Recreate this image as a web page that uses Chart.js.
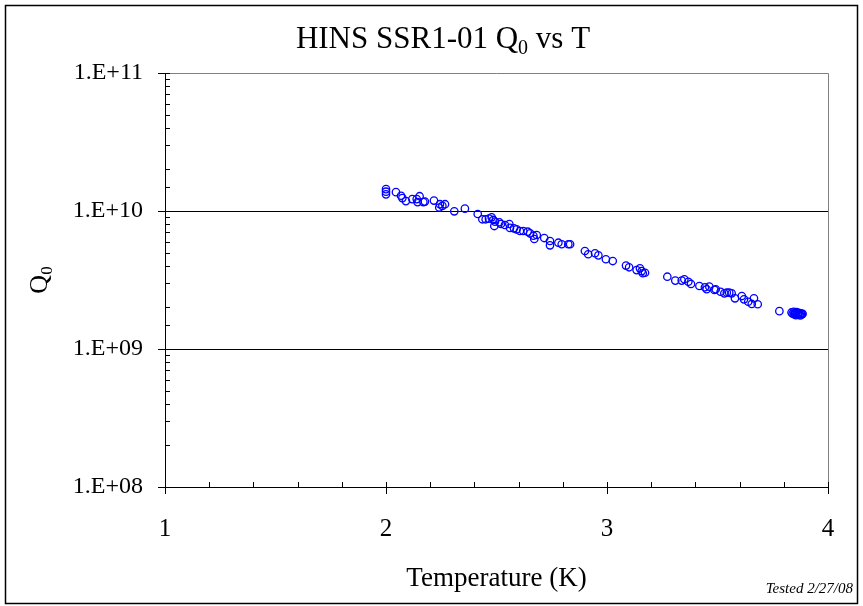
<!DOCTYPE html>
<html>
<head>
<meta charset="utf-8">
<script src="https://cdn.jsdelivr.net/npm/chart.js@4/dist/chart.umd.min.js"></script>
<style>
  html, body { margin: 0; padding: 0; background: #fff; }
  #wrap { width: 863px; height: 606px; }
</style>
</head>
<body>
<div id="wrap"><canvas id="q0chart" width="863" height="606"></canvas></div>
<script>
// Cavity test: Q0 against bath temperature
var tempK = [
  2.000, 2.000, 2.000, 2.045, 2.068, 2.074, 2.090, 2.119, 2.139, 2.152,
  2.143, 2.169, 2.176, 2.217, 2.244, 2.267, 2.241, 2.255, 2.309, 2.357,
  2.415, 2.436, 2.451, 2.466, 2.478, 2.486, 2.493, 2.490, 2.513, 2.520,
  2.538, 2.558, 2.561, 2.579, 2.591, 2.606, 2.621, 2.641, 2.652, 2.667,
  2.671, 2.682, 2.716, 2.742, 2.742, 2.780, 2.795, 2.825, 2.833, 2.900,
  2.915, 2.946, 2.961, 2.995, 3.026, 3.086, 3.100, 3.134, 3.149, 3.157,
  3.172, 3.162, 3.273, 3.309, 3.338, 3.350, 3.368, 3.380, 3.418, 3.443,
  3.451, 3.463, 3.486, 3.492, 3.514, 3.531, 3.542, 3.553, 3.564, 3.579,
  3.610, 3.620, 3.639, 3.655, 3.665, 3.682, 3.780,
  3.835, 3.840, 3.845, 3.848, 3.850, 3.852, 3.855, 3.858, 3.862, 3.865,
  3.868, 3.872, 3.875, 3.878, 3.882, 3.885
];
var q0 = [
  1.44e10, 1.38e10, 1.32e10, 1.37e10, 1.29e10, 1.24e10, 1.18e10, 1.22e10, 1.22e10, 1.28e10,
  1.16e10, 1.16e10, 1.17e10, 1.19e10, 1.12e10, 1.12e10, 1.06e10, 1.09e10, 9.95e9, 1.04e10,
  9.51e9, 8.71e9, 8.71e9, 8.80e9, 9.00e9, 8.61e9, 8.37e9, 7.78e9, 8.28e9, 8.05e9,
  7.92e9, 8.05e9, 7.54e9, 7.49e9, 7.36e9, 7.16e9, 7.16e9, 7.08e9, 6.89e9, 6.62e9,
  6.27e9, 6.70e9, 6.37e9, 6.06e9, 5.64e9, 5.89e9, 5.74e9, 5.74e9, 5.74e9, 5.13e9,
  4.86e9, 4.94e9, 4.77e9, 4.47e9, 4.34e9, 4.02e9, 3.91e9, 3.73e9, 3.84e9, 3.67e9,
  3.57e9, 3.54e9, 3.34e9, 3.13e9, 3.13e9, 3.20e9, 3.07e9, 2.96e9, 2.86e9, 2.80e9,
  2.71e9, 2.83e9, 2.68e9, 2.71e9, 2.60e9, 2.53e9, 2.56e9, 2.56e9, 2.53e9, 2.33e9,
  2.42e9, 2.29e9, 2.20e9, 2.12e9, 2.33e9, 2.11e9, 1.88e9,
  1.84e9, 1.80e9, 1.86e9, 1.78e9, 1.79e9, 1.82e9, 1.76e9, 1.85e9, 1.80e9, 1.77e9,
  1.83e9, 1.79e9, 1.75e9, 1.81e9, 1.78e9, 1.80e9
];
var xTickLabels = ['1', '2', '3', '4'];
var yTickLabels = ['1.E+08', '1.E+09', '1.E+10', '1.E+11'];

var SERIF = '"Liberation Serif", "Times New Roman", serif';

var points = tempK.map(function(t, i) { return { x: t, y: q0[i] }; });

function isDecade(v) {
  var l = Math.log10(v);
  return Math.abs(l - Math.round(l)) < 1e-9;
}
function isWhole(v) {
  return Math.abs(v - Math.round(v)) < 1e-6;
}

// text with a subscript part: [[text, isSub], ...]
function subText(ctx, parts, size) {
  var w = 0;
  parts.forEach(function(p) {
    ctx.font = (p[1] ? Math.round(size * 0.65) : size) + 'px ' + SERIF;
    p.w = ctx.measureText(p[0]).width;
    w += p.w;
  });
  return w;
}
function drawSub(ctx, parts, size, cx, baseY) {
  var w = subText(ctx, parts, size);
  var x = cx - w / 2;
  ctx.textAlign = 'left';
  ctx.textBaseline = 'alphabetic';
  parts.forEach(function(p) {
    ctx.font = (p[1] ? Math.round(size * 0.65) : size) + 'px ' + SERIF;
    ctx.fillText(p[0], x, baseY + (p[1] ? size * 0.18 : 0));
    x += p.w;
  });
}

var decor = {
  id: 'decor',
  afterDraw: function(chart) {
    var ctx = chart.ctx, a = chart.chartArea;
    var xs = chart.scales.x, ys = chart.scales.y;
    ctx.save();
    // plot frame, top and right
    ctx.strokeStyle = '#808080';
    ctx.lineWidth = 1;
    ctx.beginPath();
    ctx.moveTo(a.left, a.top + 0.5);
    ctx.lineTo(a.right + 0.5, a.top + 0.5);
    ctx.lineTo(a.right + 0.5, a.bottom);
    ctx.stroke();

    // tick marks
    ctx.strokeStyle = '#000';
    ctx.beginPath();
    ys.ticks.forEach(function(t) {
      var py = Math.round(ys.getPixelForValue(t.value)) + 0.5;
      var major = isDecade(t.value);
      ctx.moveTo(a.left - (major ? 7 : 0), py);
      ctx.lineTo(a.left + 5, py);
    });
    xs.ticks.forEach(function(t) {
      var px = Math.round(xs.getPixelForValue(t.value)) + 0.5;
      var major = isWhole(t.value);
      ctx.moveTo(px, a.bottom - 5);
      ctx.lineTo(px, a.bottom + (major ? 7 : 0));
    });
    ctx.stroke();

    // outer border
    ctx.lineWidth = 1.5;
    ctx.strokeRect(5.5, 5.5, 852, 598);

    ctx.fillStyle = '#000';
    // title
    drawSub(ctx, [['HINS SSR1-01 Q', false], ['0', true], [' vs T', false]], 31, 443, 48);
    // axis titles
    ctx.font = '27px ' + SERIF;
    ctx.textAlign = 'center';
    ctx.textBaseline = 'alphabetic';
    ctx.fillText('Temperature (K)', (a.left + a.right) / 2, 586);
    ctx.save();
    ctx.translate(47, 280);
    ctx.rotate(-Math.PI / 2);
    drawSub(ctx, [['Q', false], ['0', true]], 26, 0, 0);
    ctx.restore();
    // note
    ctx.font = 'italic 15px ' + SERIF;
    ctx.textAlign = 'right';
    ctx.fillText('Tested 2/27/08', 853, 593);
    ctx.restore();
  }
};

new Chart(document.getElementById('q0chart').getContext('2d'), {
  type: 'scatter',
  data: {
    datasets: [{
      data: points,
      pointStyle: 'circle',
      pointRadius: 3.7,
      pointBorderWidth: 1.3,
      pointBorderColor: '#0000ff',
      pointBackgroundColor: 'rgba(0,0,0,0)',
      showLine: false
    }]
  },
  options: {
    responsive: false,
    animation: false,
    layout: { padding: { left: 0, right: 35, top: 73, bottom: 0 } },
    plugins: { legend: { display: false }, tooltip: { enabled: false } },
    scales: {
      x: {
        type: 'linear',
        min: 1, max: 4,
        afterFit: function(s) { s.height = 119; },
        ticks: {
          stepSize: 0.2,
          padding: 27,
          color: '#000',
          font: { family: SERIF, size: 25 },
          maxRotation: 0,
          autoSkip: false,
          callback: function(v) {
            return isWhole(v) ? xTickLabels[Math.round(v) - 1] : '';
          }
        },
        grid: { display: false, drawTicks: false },
        border: { display: true, color: '#000', width: 1 }
      },
      y: {
        type: 'logarithmic',
        min: 1e8, max: 1e11,
        afterFit: function(s) { s.width = 165; },
        ticks: {
          padding: 22,
          color: '#000',
          font: { family: SERIF, size: 24 },
          autoSkip: false,
          callback: function(v) {
            if (!isDecade(v)) return '';
            return yTickLabels[Math.round(Math.log10(v)) - 8];
          }
        },
        grid: {
          drawTicks: false,
          color: function(c) {
            var v = c.tick && c.tick.value;
            return (v && isDecade(v) && v > 1e8 && v < 1e11) ? '#000' : 'rgba(0,0,0,0)';
          },
          lineWidth: 1
        },
        border: { display: true, color: '#000', width: 1 }
      }
    }
  },
  plugins: [decor]
});
</script>
</body>
</html>
